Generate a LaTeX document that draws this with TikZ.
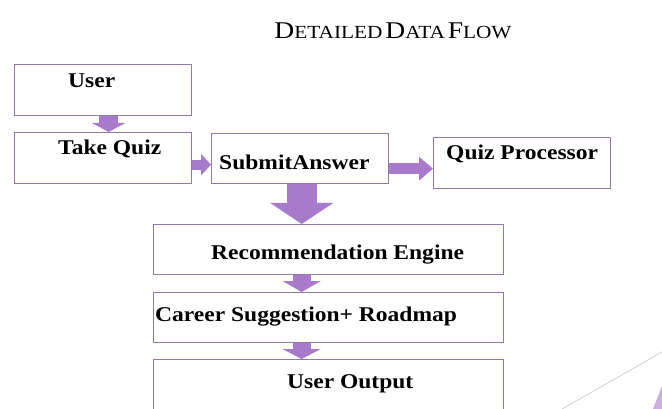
\documentclass[tikz,border=0pt]{standalone}
\usepackage{fontspec}
\setmainfont{Liberation Serif}
\usetikzlibrary{positioning, arrows.meta}
\definecolor{boxline}{RGB}{142,122,162}
\definecolor{flowfill}{RGB}{168,122,204}
\newcommand\boxfont{\fontsize{21}{24}\selectfont\bfseries}
\newcommand\smallcap[2]{{\fontsize{24}{26}\selectfont #1}{\fontsize{18.5}{20}\selectfont #2}}

\begin{document}
\begin{tikzpicture}[x = 1pt, y = -1pt,
  box/.style = {draw = boxline, line width = 1.3pt, fill = white, inner sep = 0pt, anchor = north west, minimum width = 177pt, minimum height = 51pt},
  wide/.style = {box, minimum width = 350pt},
  lbl/.style = {font = \boxfont, anchor = base west, inner sep = 0pt, xscale = 1.12, transform shape},
  flow/.style n args = {3}{draw = flowfill, line width = #1, -{Triangle[width = #2, length = #3, fill = flowfill]}}]
  \useasboundingbox (0,0) rectangle (662,409);

  \node (title) [anchor = base, inner sep = 0pt, xscale = 1.15, transform shape] at (393,39) {\smallcap{D}{ETAILED} \smallcap{D}{ATA} \smallcap{F}{LOW}};

  % boxes
  \node (user) [box] at (14,64) {};
  \node (quiz) [box] at (14,132) {};
  \node (submit) [box, minimum height = 50pt] at (211,133) {};
  \node (proc) [box] at (433,137) {};
  \node (engine) [wide, minimum height = 50pt] at (153,224) {};
  \node (career) [wide, minimum height = 50pt] at (153,292) {};
  \node (output) [wide] at (153,359) {};

  % labels
  \node (userlbl) [lbl] at (68,88) {User};
  \node (quizlbl) [lbl] at (58,155) {Take Quiz};
  \node (submitlbl) [lbl] at (219,170) {SubmitAnswer};
  \node (proclbl) [lbl] at (446,160) {Quiz Processor};
  \node (enginelbl) [lbl] at (211,259) {Recommendation Engine};
  \node (careerlbl) [lbl] at (155,321) {Career Suggestion+ Roadmap};
  \node (outputlbl) [lbl] at (287,388) {User Output};

  % block arrows
  \draw [flow = {19pt}{33pt}{9pt}] ([xshift = 5.5pt]user.south) -- ([xshift = 5.5pt]quiz.north);
  \draw [flow = {10pt}{21pt}{10pt}] ([yshift = -6.5pt]quiz.east) -- ([yshift = -6.5pt]quiz.east -| submit.west);
  \draw [flow = {11pt}{23pt}{14pt}] ([yshift = -10pt]submit.east) -- ([yshift = -10pt]submit.east -| proc.west);
  \draw [flow = {30pt}{62pt}{21pt}] ([xshift = 1.5pt]submit.south) -- ([xshift = 1.5pt]submit.south |- engine.north);
  \draw [flow = {18pt}{38pt}{11pt}] ([xshift = -27pt]engine.south) -- ([xshift = -27pt]career.north);
  \draw [flow = {18pt}{38pt}{10pt}] ([xshift = -27pt]career.south) -- ([xshift = -27pt]output.north);

  % corner decoration
  \draw [gray!35, line width = 0.8pt] (562,409) -- (662,352);
  \fill [flowfill!60] (653,409) -- (662,386) -- (662,409) -- cycle;
\end{tikzpicture}
\end{document}
